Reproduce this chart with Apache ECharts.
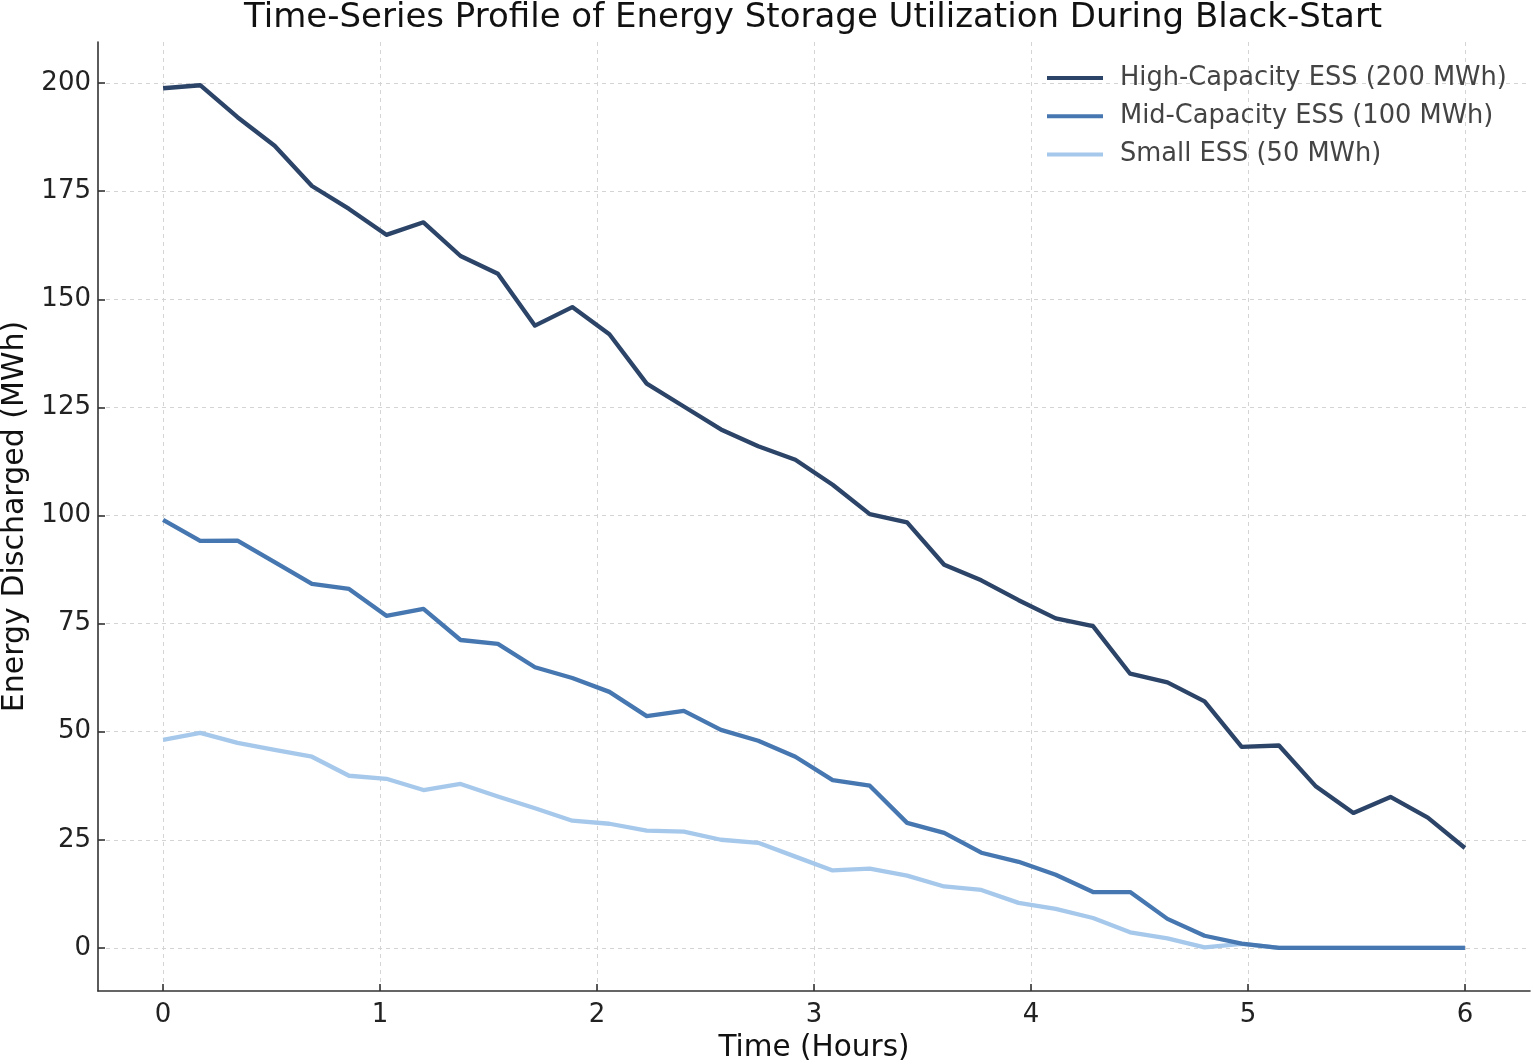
<!DOCTYPE html>
<html>
<head>
<meta charset="utf-8">
<script src="https://cdn.jsdelivr.net/npm/echarts@6/dist/echarts.min.js"></script>
<style>
html,body{margin:0;padding:0;background:#fff;}
#chart{width:1534px;height:1064px;}
</style>
</head>
<body>
<div id="chart"></div>
<script>
var timeHours = [0, 0.171, 0.343, 0.514, 0.686, 0.857, 1.029, 1.2, 1.371, 1.543, 1.714, 1.886, 2.057, 2.229, 2.4, 2.571, 2.743, 2.914, 3.086, 3.257, 3.429, 3.6, 3.771, 3.943, 4.114, 4.286, 4.457, 4.629, 4.8, 4.971, 5.143, 5.314, 5.486, 5.657, 5.829, 6.0];
var highESS = [198.8, 199.5, 192.1, 185.5, 176.2, 170.9, 164.9, 167.8, 160.0, 155.9, 143.9, 148.2, 141.9, 130.5, 125.2, 119.9, 116.0, 112.9, 107.1, 100.3, 98.4, 88.6, 85.0, 80.4, 76.2, 74.4, 63.4, 61.4, 57.0, 46.5, 46.8, 37.3, 31.2, 34.9, 30.1, 23.1];
var midESS = [99.0, 94.1, 94.2, 89.2, 84.2, 83.0, 76.8, 78.4, 71.2, 70.3, 64.9, 62.4, 59.2, 53.6, 54.8, 50.4, 47.9, 44.2, 38.8, 37.5, 28.9, 26.6, 22.0, 19.9, 16.9, 12.9, 12.9, 6.7, 2.8, 1.0, 0, 0, 0, 0, 0, 0];
var smallESS = [48.1, 49.7, 47.4, 45.8, 44.2, 39.8, 39.1, 36.5, 37.9, 35.0, 32.3, 29.4, 28.7, 27.1, 26.9, 25.0, 24.3, 21.1, 17.9, 18.3, 16.7, 14.2, 13.4, 10.4, 9.0, 6.9, 3.6, 2.2, 0.1, 0.9, 0, 0, 0, 0, 0, 0];
var seriesNames = ['High-Capacity ESS (200 MWh)', 'Mid-Capacity ESS (100 MWh)', 'Small ESS (50 MWh)'];
var xTicks = [0, 1, 2, 3, 4, 5, 6];
var yTicks = [0, 25, 50, 75, 100, 125, 150, 175, 200];

var colors = ['#2b4468', '#4677b0', '#a6c8eb'];
var font = 'DejaVu Sans';

function pairs(xs, ys) { return xs.map(function (x, i) { return [x, ys[i]]; }); }
var allData = [highESS, midESS, smallESS];

var chart = echarts.init(document.getElementById('chart'), null, {renderer: 'canvas'});
chart.setOption({
  animation: false,
  backgroundColor: '#ffffff',
  title: {
    text: 'Time-Series Profile of Energy Storage Utilization During Black-Start',
    left: 239, top: -4,
    textStyle: {fontFamily: font, fontSize: 34, fontWeight: 'normal', color: '#111'}
  },
  legend: {
    orient: 'vertical', left: 1042, top: 58,
    itemWidth: 56, itemHeight: 4, itemGap: 8.3,
    icon: 'rect',
    textStyle: {fontFamily: font, fontSize: 25.7, color: '#444', lineHeight: 30, padding: [0, 0, 0, 12]},
    data: seriesNames
  },
  grid: {left: 98, right: 4, top: 42, bottom: 73, containLabel: false, outerBoundsMode: 'none'},
  xAxis: {
    type: 'value', min: -0.3, max: 6.3,
    name: 'Time (Hours)', nameLocation: 'middle', nameGap: 40,
    nameTextStyle: {fontFamily: font, fontSize: 29.5, color: '#111'},
    axisLine: {show: true, onZero: false, lineStyle: {color: '#333', width: 1.6}},
    axisTick: {show: true, inside: true, length: 7, customValues: xTicks, lineStyle: {color: '#333', width: 1.6}},
    axisLabel: {customValues: xTicks, fontFamily: font, fontSize: 26, color: '#222', margin: 11},
    splitLine: {show: true, lineStyle: {color: '#d4d4d4', type: [4, 4], width: 1}}
  },
  yAxis: {
    type: 'value', min: -9.98, max: 209.5,
    name: 'Energy Discharged (MWh)', nameLocation: 'middle', nameGap: 63,
    nameTextStyle: {fontFamily: font, fontSize: 30, color: '#111'},
    axisLine: {show: true, onZero: false, lineStyle: {color: '#333', width: 1.6}},
    axisTick: {show: true, inside: true, length: 7, customValues: yTicks, lineStyle: {color: '#333', width: 1.6}},
    axisLabel: {customValues: yTicks, fontFamily: font, fontSize: 26, color: '#222', margin: 7},
    splitLine: {show: true, lineStyle: {color: '#d4d4d4', type: [4, 4], width: 1}}
  },
  series: seriesNames.map(function (n, k) {
    return {
      name: n, type: 'line', data: pairs(timeHours, allData[k]),
      showSymbol: false, symbol: 'none',
      lineStyle: {color: colors[k], width: 4.3, join: 'round'},
      itemStyle: {color: colors[k]},
      z: 3 - k
    };
  })
});
</script>
</body>
</html>
